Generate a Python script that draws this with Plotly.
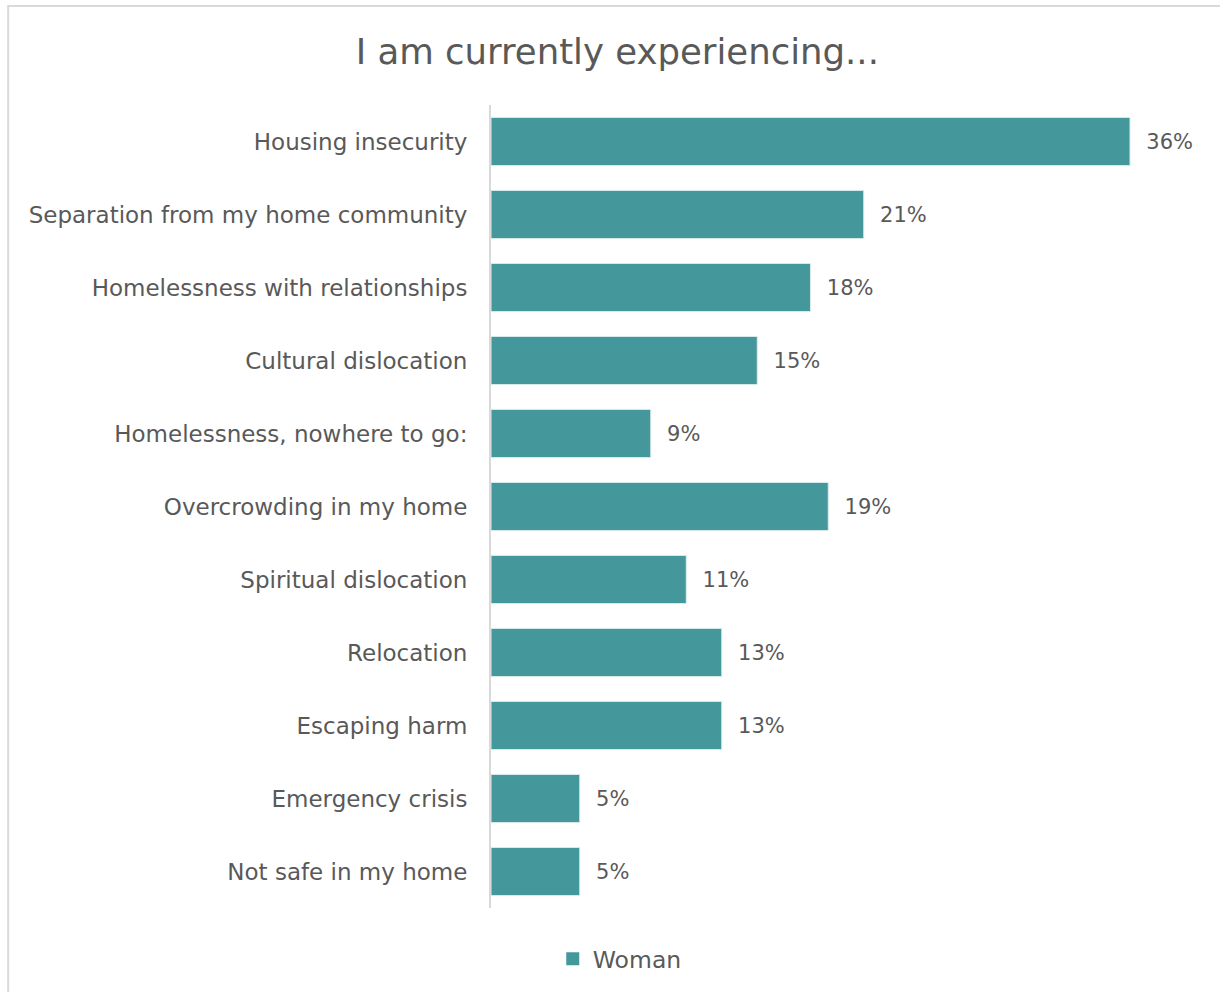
import plotly.graph_objects as go

# Survey responses, top to bottom as listed
categories = [
    "Housing insecurity",
    "Separation from my home community",
    "Homelessness with relationships",
    "Cultural dislocation",
    "Homelessness, nowhere to go:",
    "Overcrowding in my home",
    "Spiritual dislocation",
    "Relocation",
    "Escaping harm",
    "Emergency crisis",
    "Not safe in my home",
]
woman = [0.36, 0.21, 0.18, 0.15, 0.09, 0.19, 0.11, 0.13, 0.13, 0.05, 0.05]
series_name = "Woman"

TEAL = "#44979a"
TEXT = "#595959"
FONT = "DejaVu Sans, Lato, sans-serif"

fig = go.Figure()
fig.add_trace(go.Bar(
    y=categories,
    x=woman,
    orientation="h",
    name=series_name,
    showlegend=False,
    marker=dict(color=TEAL, line=dict(color="#d9ecec", width=1)),
    text=[f"{v:.0%}" for v in woman],
    texttemplate="  %{text}",
    textposition="outside",
    cliponaxis=False,
    textfont=dict(color=TEXT, size=21, family=FONT),
))
# legend entry with a larger square swatch
fig.add_trace(go.Scatter(
    x=[None], y=[None],
    mode="markers",
    name=series_name,
    marker=dict(symbol="square", size=13, color=TEAL),
))

fig.update_layout(
    width=1220,
    height=992,
    paper_bgcolor="white",
    plot_bgcolor="white",
    margin=dict(l=491, r=19, t=105, b=84),
    bargap=0.34,
    title=dict(
        text="I am currently experiencing...",
        x=0.506, xanchor="center",
        y=0.9476, yref="container", yanchor="middle",
        font=dict(size=35.5, color=TEXT, family=FONT),
    ),
    font=dict(family=FONT, color=TEXT),
    showlegend=True,
    legend=dict(
        orientation="h",
        x=0.508, xref="container", xanchor="center",
        y=0.0333, yref="container", yanchor="middle",
        font=dict(size=23.5, color=TEXT, family=FONT),
        itemwidth=30,
        tracegroupgap=0,
    ),
    xaxis=dict(
        range=[0, 0.40],
        showgrid=False,
        zeroline=False,
        showticklabels=False,
        showline=False,
        fixedrange=True,
    ),
    yaxis=dict(
        autorange="reversed",
        showgrid=False,
        zeroline=False,
        showline=True,
        linecolor="#d9d9d9",
        linewidth=2,
        ticks="",
        ticklabelstandoff=17,
        tickfont=dict(size=23, color=TEXT, family=FONT),
    ),
    shapes=[
        dict(
            type="rect", xref="paper", yref="paper",
            x0=-0.680, x1=1.1, y0=-0.2, y1=1.1233,
            line=dict(color="#d9d9d9", width=2),
            fillcolor="rgba(0,0,0,0)",
            layer="below",
        )
    ],
)

fig.write_html("out.html")
